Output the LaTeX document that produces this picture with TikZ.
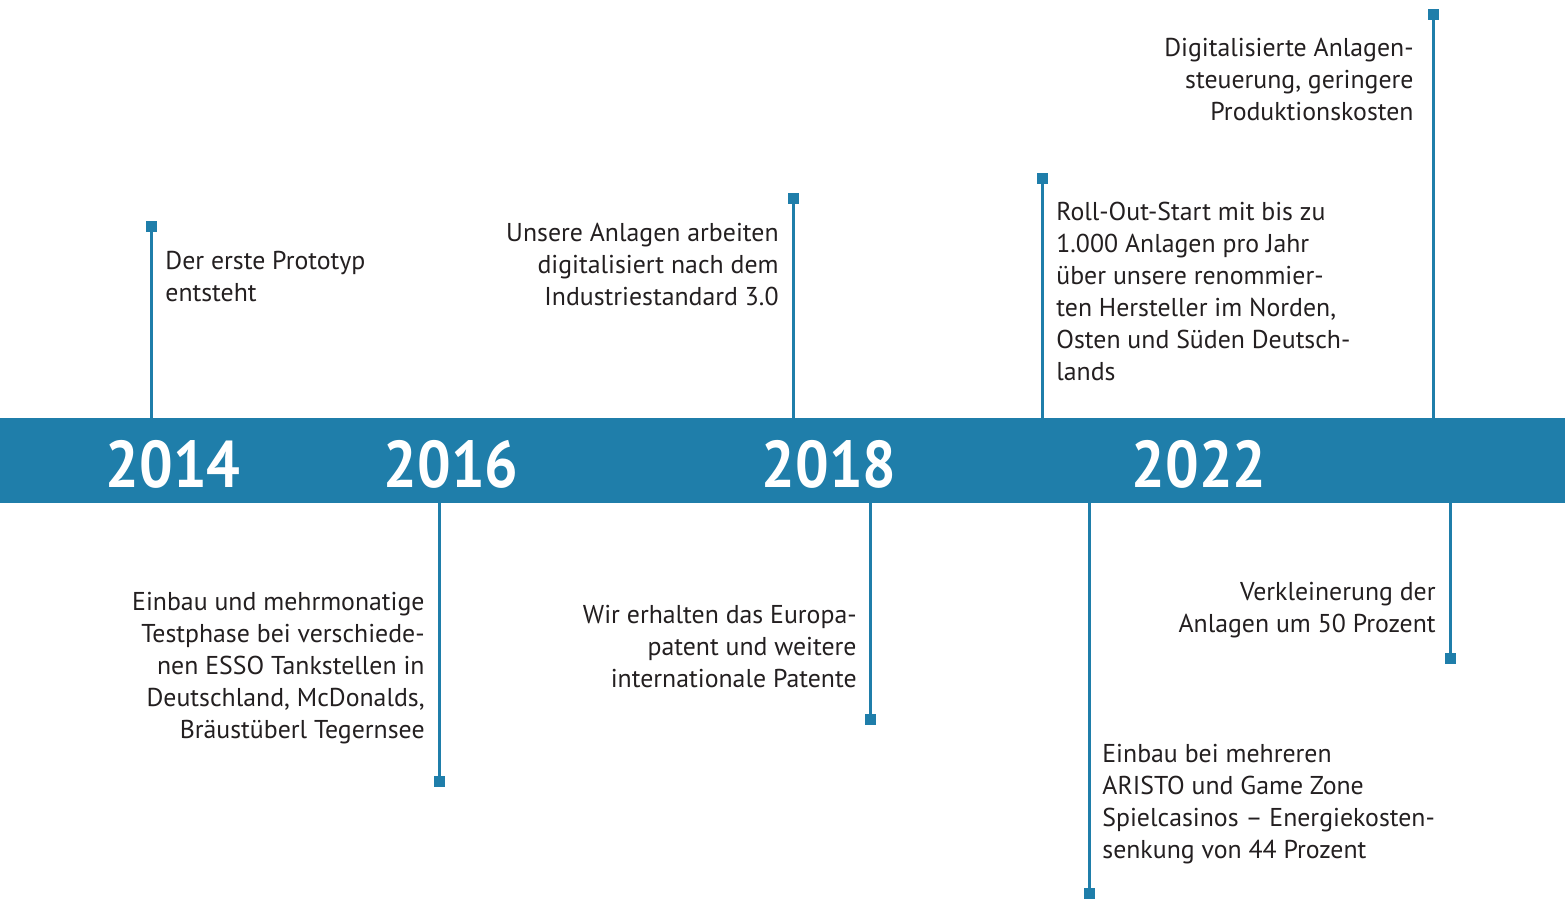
\documentclass[tikz,border=0pt]{standalone}
\usepackage{fontspec}
\setmainfont{PT Sans}
\definecolor{timeblue}{HTML}{1F7EAA}
\definecolor{inkgray}{HTML}{231F20}
\newcommand{\yr}[1]{\scalebox{0.9}[1]{#1}}

\begin{document}
\begin{tikzpicture}[x=0.5pt,y=-0.5pt]
    \tikzstyle{dot}=[fill=timeblue, inner sep=0pt, minimum size=5.5pt]
    \tikzstyle{stem}=[timeblue, line width=1.5pt]
    \tikzstyle{note}=[inner sep=0pt, text=inkgray, font=\fontsize{12.9}{16}\selectfont]
    \tikzstyle{year}=[inner sep=0pt, text=white, font=\fontsize{33}{36}\selectfont\bfseries, anchor=base]
    \useasboundingbox (0,0) rectangle (1565,899);
    % timeline bar
    \node[fill=timeblue, inner sep=0pt, minimum width=782.5pt, minimum height=42.5pt] (bar) at (782.5,460.5) {};
    \node[year] (y14) at (173,487) {\yr{2014}};
    \node[year] (y16) at (451,487) {\yr{2016}};
    \node[year] (y18) at (829,487) {\yr{2018}};
    \node[year] (y22) at (1199,487) {\yr{2022}};
    % events above
    \node[dot] (e1) at (151,227) {};
    \node[dot] (e3) at (793,199) {};
    \node[dot] (e5) at (1042,179) {};
    \node[dot] (e7) at (1433,15) {};
    \foreach \e in {e1,e3,e5,e7}
        \draw[stem] (\e.center) -- (\e |- bar.north);
    % events below
    \node[dot] (e2) at (439,781) {};
    \node[dot] (e4) at (870,719) {};
    \node[dot] (e6) at (1089,893) {};
    \node[dot] (e8) at (1450,658) {};
    \foreach \e in {e2,e4,e6,e8}
        \draw[stem] (\e.center) -- (\e |- bar.south);
    % texts
    \node[note, anchor=north west, align=left] (t1) at (165,251) {Der erste Prototyp\\entsteht};
    \node[note, anchor=north east, align=right] (t2) at (425,592) {Einbau und mehrmonatige\\Testphase bei verschiede-\\nen ESSO Tankstellen in\\Deutschland, McDonalds,\\Bräustüberl Tegernsee};
    \node[note, anchor=north east, align=right] (t3) at (779,223) {Unsere Anlagen arbeiten\\digitalisiert nach dem\\Industriestandard 3.0};
    \node[note, anchor=north east, align=right] (t4) at (857,605) {Wir erhalten das Europa-\\patent und weitere\\internationale Patente};
    \node[note, anchor=north west, align=left] (t5) at (1056,202) {Roll-Out-Start mit bis zu\\1.000 Anlagen pro Jahr\\über unsere renommier-\\ten Hersteller im Norden,\\Osten und Süden Deutsch-\\lands};
    \node[note, anchor=north west, align=left] (t6) at (1102,744) {Einbau bei mehreren\\ARISTO und Game Zone\\Spielcasinos – Energiekosten-\\senkung von 44 Prozent};
    \node[note, anchor=north east, align=right] (t7) at (1414,38) {Digitalisierte Anlagen-\\steuerung, geringere\\Produktionskosten};
    \node[note, anchor=north east, align=right] (t8) at (1436,582) {Verkleinerung der\\Anlagen um 50 Prozent};
\end{tikzpicture}
\end{document}
